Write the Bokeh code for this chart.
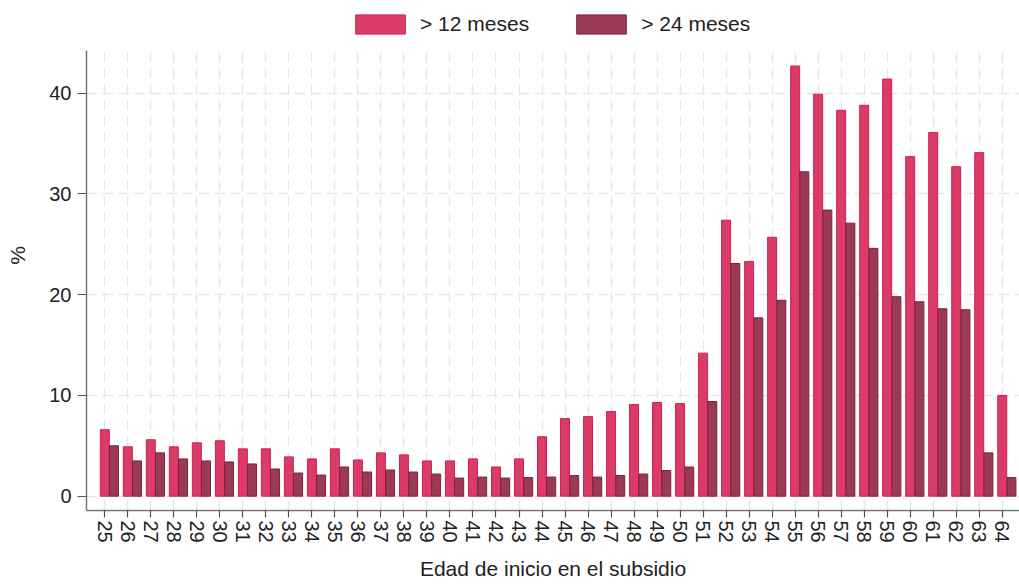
from bokeh.plotting import figure
from bokeh.models import ColumnDataSource, Range1d, FixedTicker, Legend, LegendItem, BoxAnnotation
from bokeh.transform import dodge
from bokeh.embed import file_html
from bokeh.resources import INLINE

ages = [25, 26, 27, 28, 29, 30, 31, 32, 33, 34, 35, 36, 37, 38, 39, 40, 41, 42, 43, 44,
        45, 46, 47, 48, 49, 50, 51, 52, 53, 54, 55, 56, 57, 58, 59, 60, 61, 62, 63, 64]
m12 = [6.6, 4.9, 5.6, 4.9, 5.3, 5.5, 4.7, 4.7, 3.9, 3.7,
       4.7, 3.6, 4.3, 4.1, 3.5, 3.5, 3.7, 2.9, 3.7, 5.9,
       7.7, 7.9, 8.4, 9.1, 9.3, 9.2, 14.2, 27.4, 23.3, 25.7,
       42.7, 39.9, 38.3, 38.8, 41.4, 33.7, 36.1, 32.7, 34.1, 10.0]
m24 = [5.0, 3.5, 4.3, 3.7, 3.5, 3.4, 3.2, 2.7, 2.3, 2.1,
       2.9, 2.4, 2.6, 2.4, 2.2, 1.8, 1.9, 1.8, 1.85, 1.9,
       2.05, 1.9, 2.05, 2.2, 2.55, 2.9, 9.4, 23.1, 17.7, 19.45,
       32.2, 28.4, 27.1, 24.6, 19.8, 19.3, 18.6, 18.5, 4.3, 1.85]
y_ticks = [0, 10, 20, 30, 40]
labels = ["> 12 meses", "> 24 meses"]

FONT = "Liberation Sans"
PINK, PINK_EDGE = "#db3b67", "#cf1f52"
DARK, DARK_EDGE = "#9b3a55", "#80203e"

Y_MIN, Y_AXIS_TOP, Y_FRAME_TOP = -1.42, 44.24, 49.2

src = ColumnDataSource(dict(age=ages, m12=m12, m24=m24))

p = figure(width=1019, height=584, output_backend="svg", toolbar_location=None,
           x_range=Range1d(24.205, 64.75), y_range=Range1d(Y_MIN, Y_FRAME_TOP),
           min_border_left=86, min_border_right=0, min_border_top=0, min_border_bottom=74)
p.outline_line_color = None
p.background_fill_color = "white"

r1 = p.vbar(x="age", top="m12", bottom=0, width=0.39, source=src,
            fill_color=PINK, line_color=PINK_EDGE, line_width=1)
r2 = p.vbar(x=dodge("age", 0.40), top="m24", bottom=0, width=0.39, source=src,
            fill_color=DARK, line_color=DARK_EDGE, line_width=1)

# axes
p.xaxis.ticker = FixedTicker(ticks=ages)
p.yaxis.ticker = FixedTicker(ticks=y_ticks)
p.yaxis.bounds = (Y_MIN, Y_AXIS_TOP)
p.xaxis.major_label_orientation = "vertical"
for ax in (p.xaxis[0], p.yaxis[0]):
    ax.axis_line_color = "#777777"
    ax.axis_line_width = 1.5
    ax.major_tick_line_color = "#555555"
    ax.major_tick_line_width = 1.2
    ax.minor_tick_line_color = None
    ax.major_tick_in = 0
    ax.major_label_text_font = FONT
    ax.major_label_text_font_size = "20px"
    ax.major_label_text_color = "#222222"
    ax.axis_label_text_font = FONT
    ax.axis_label_text_font_size = "21px"
    ax.axis_label_text_font_style = "normal"
    ax.axis_label_text_color = "#222222"
p.xaxis.major_tick_out = 7
p.yaxis.major_tick_out = 9
p.xaxis.major_label_standoff = 3
p.yaxis.major_label_standoff = 6
p.xaxis.axis_label = "Edad de inicio en el subsidio"
p.yaxis.axis_label = "%"
p.xaxis.axis_label_standoff = 11
p.yaxis.axis_label_standoff = 17

# grids
p.xgrid.ticker = FixedTicker(ticks=ages)
p.ygrid.ticker = FixedTicker(ticks=y_ticks)
for g in (p.xgrid[0], p.ygrid[0]):
    g.grid_line_color = "#e6e6e6"
    g.grid_line_width = 1.5
    g.grid_line_dash = "10 6"

# white mask over the legend strip above the plotting area
mask = BoxAnnotation(bottom=Y_AXIS_TOP, fill_color="white", fill_alpha=1.0,
                     line_alpha=0, level="underlay")
p.add_layout(mask)

legend = Legend(items=[LegendItem(label=labels[0], renderers=[r1]),
                       LegendItem(label=labels[1], renderers=[r2])],
                orientation="horizontal", location=(263, 474),
                glyph_width=62, glyph_height=24, label_standoff=9, spacing=41,
                padding=0, margin=0, border_line_color=None, background_fill_alpha=0,
                label_text_font=FONT, label_text_font_size="21px", label_text_color="#222222",
                label_height=24)
p.add_layout(legend, "center")

open("out.html", "w").write(file_html(p, INLINE))
